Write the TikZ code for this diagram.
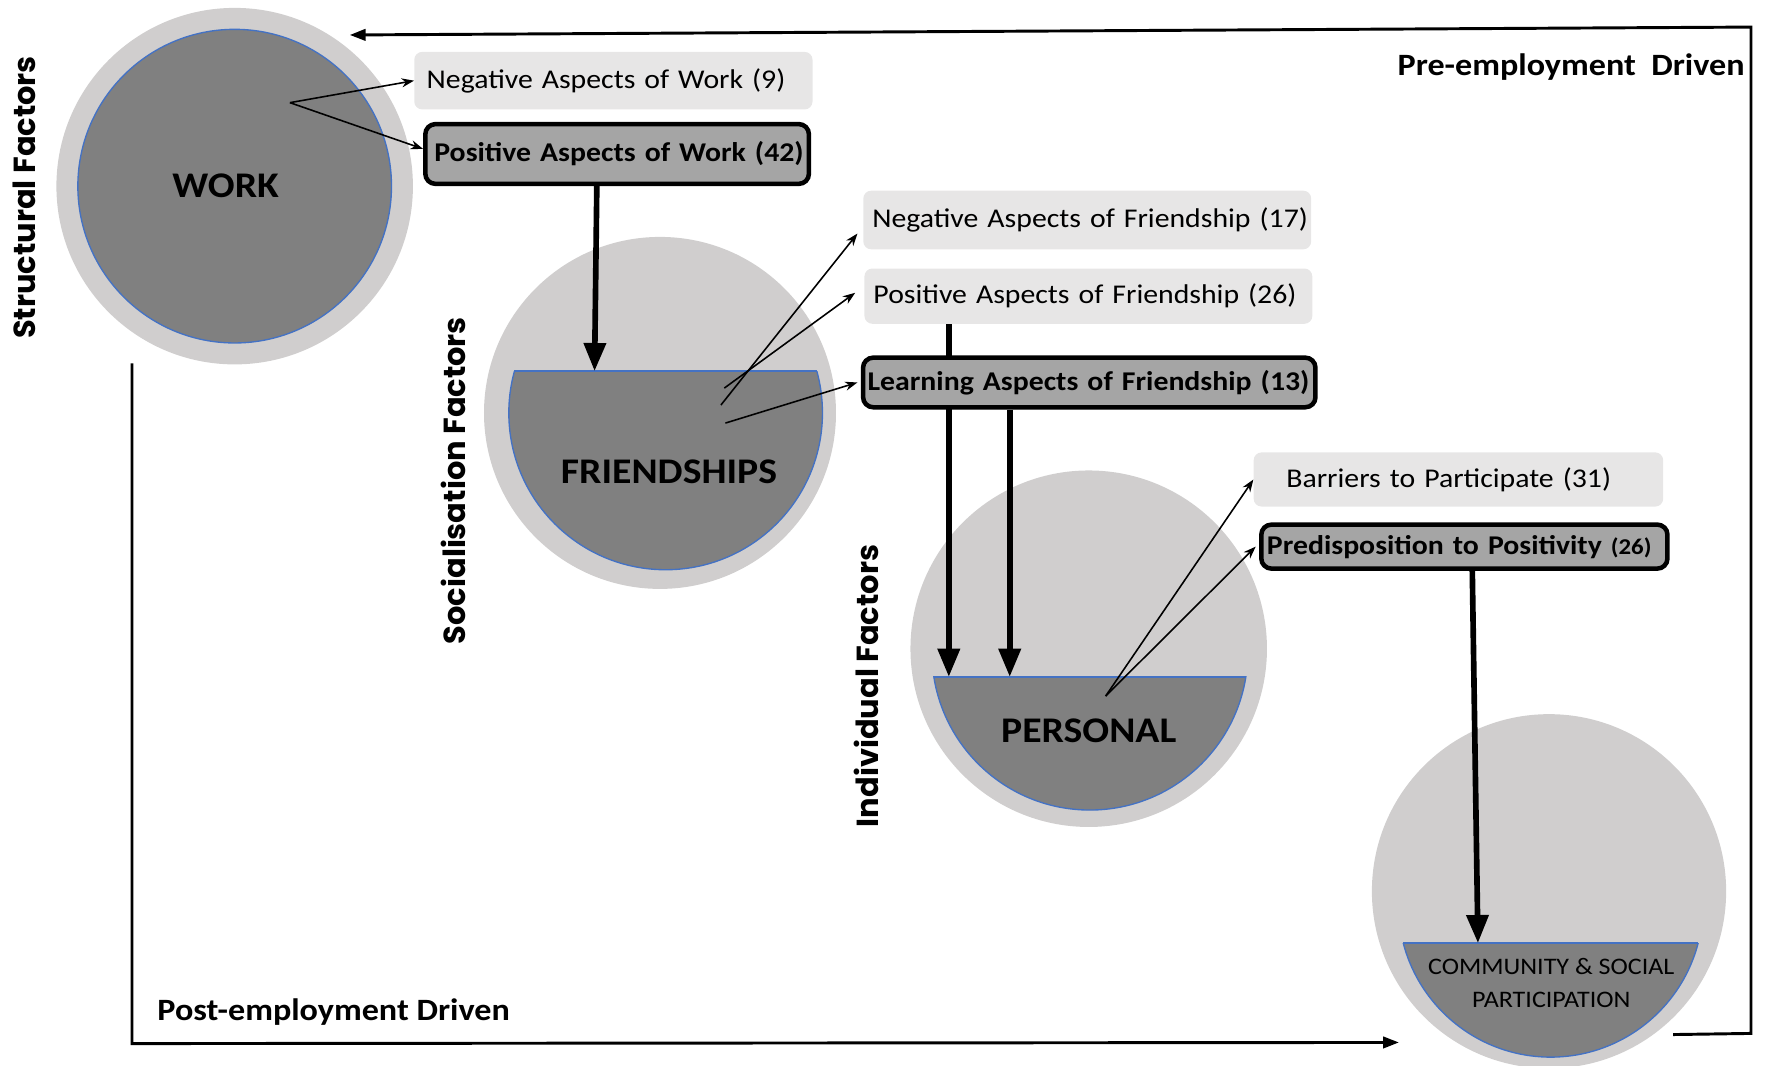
\documentclass[tikz,border=0pt]{standalone}
\usepackage{fontspec}
\setmainfont{Carlito}[FakeStretch=1.1]
\newfontfamily\geofont{Poppins}
\usetikzlibrary{arrows.meta}
\pgfdeclarelayer{circles}
\pgfdeclarelayer{links}
\pgfsetlayers{circles,links,main}
\definecolor{outergray}{HTML}{D0CECE}
\definecolor{innergray}{HTML}{808080}
\definecolor{rimblue}{HTML}{4472C4}
\definecolor{boxlight}{HTML}{E7E6E6}
\definecolor{boxdark}{HTML}{A5A5A5}
\tikzset{
 outer/.style={circle, fill=outergray, inner sep=0},
 bowl/.style={fill=innergray, draw=rimblue, line width=1.2pt},
 rim/.style={draw=rimblue, line width=1.2pt},
 lightbox/.style={fill=boxlight, rounded corners=7pt, inner ysep=0, anchor=west, align=left, font=\fontsize{24}{28}\selectfont},
 darkbox/.style={fill=boxdark, draw=black, line width=4pt, rounded corners=9pt, inner ysep=0, anchor=west, align=left, font=\fontsize{24}{28}\selectfont\bfseries},
 thinarrow/.style={line width=1.4pt, -{Stealth[length=11pt,width=8pt]}},
 thickarrow/.style={line width=5pt, -{Triangle[length=25pt,width=19pt]}},
 frameline/.style={line width=2.6pt},
 sidelabel/.style={rotate=90, font=\geofont\bfseries\fontsize{27}{30}\selectfont},
 driven/.style={font=\fontsize{27.5}{32}\selectfont\bfseries},
 bowltext/.style={font=\fontsize{32}{36}\selectfont\bfseries},
}
\begin{document}
\begin{tikzpicture}[x=1pt,y=-1pt]
\useasboundingbox (0,0) rectangle (1568,944);

% ---- circles ----
\begin{pgfonlayer}{circles}
\node[outer, minimum size=316pt] (workc) at (208,165) {};
\node[outer, minimum size=312pt] (friendc) at (585,366) {};
\node[outer, minimum size=316pt] (persc) at (965,575) {};
\node[outer, minimum size=314pt] (commc) at (1373,790) {};
\filldraw[bowl] (208,165) circle (139);
\begin{scope}
\clip (440,329) rectangle (740,515);
\filldraw[bowl] (590,366) circle (139);
\end{scope}
\draw[rim] (456,329) -- (724,329);
\begin{scope}
\clip (815,600) rectangle (1115,730);
\filldraw[bowl] (966,578) circle (140);
\end{scope}
\draw[rim] (827.7,600) -- (1104.3,600);
\begin{scope}
\clip (1230,836) rectangle (1520,944);
\filldraw[bowl] (1374.5,802) circle (135);
\end{scope}
\draw[rim] (1244,836) -- (1505,836);
\end{pgfonlayer}

\node[bowltext] (work) at (200,165) {WORK};
\node[bowltext] (friend) at (593,418) {FRIENDSHIPS};
\node[bowltext] (pers) at (965,648) {PERSONAL};
\node[align=center, font=\fontsize{21}{29}\selectfont] (comm) at (1375,871) {COMMUNITY \& SOCIAL\\PARTICIPATION};

% ---- boxes ----
\node[lightbox, minimum height=51pt, text width=331pt, inner xsep=11pt] (negW) at (367,71.5) {\mbox{Negative Aspects of Work (9)}};
\node[darkbox, minimum height=53pt, text width=324pt, inner xsep=8pt] (posW) at (375,136.5) {\mbox{Positive Aspects of Work (42)}};
\node[lightbox, minimum height=52pt, text width=381pt, inner xsep=8pt] (negF) at (765,195) {\mbox{Negative Aspects of Friendship (17)}};
\node[lightbox, minimum height=49pt, text width=381pt, inner xsep=8pt] (posF) at (766,262.5) {\mbox{Positive Aspects of Friendship (26)}};
\node[darkbox, minimum height=44pt, text width=393pt, inner xsep=4pt] (learnF) at (763,339) {\mbox{Learning Aspects of Friendship (13)}};
\node[lightbox, minimum height=48pt, text width=305pt, inner xsep=29pt] (barr) at (1111,425) {\mbox{Barriers to Participate (31)}};
\node[darkbox, minimum height=39pt, text width=350pt, inner xsep=5pt] (pred) at (1116,484.5) {\mbox{Predisposition to Positivity {\fontsize{20}{22}\selectfont(26)}}};

% ---- side labels ----
\node[sidelabel] (lstruct) at (22,175) {Structural Factors};
\node[sidelabel] (lsocial) at (402,426) {Socialisation Factors};
\node[sidelabel] (lindiv) at (768,608) {Individual Factors};
\node[driven, anchor=east] (pre) at (1550,59) {Pre-employment\ \ Driven};
\node[driven, anchor=west] (post) at (136,897) {Post-employment Driven};

% ---- coordinates ----
\coordinate (w0) at (257,91);
\coordinate (f1) at (639,359);
\coordinate (f2) at (642,344);
\coordinate (f3) at (643,375);
\coordinate (p0) at (980,617);
\coordinate (friendTop) at (527,329);
\coordinate (persTopA) at (841,600);
\coordinate (persTopB) at (895,600);
\coordinate (commTop) at (1310,836);
\coordinate (topEnd) at (310,31);
\coordinate (topCorner) at (1552,24);
\coordinate (rightBot) at (1552,916);
\coordinate (rightStub) at (1483,917);
\coordinate (leftTop) at (117,322);
\coordinate (leftBot) at (117,925);
\coordinate (botEnd) at (1240,924);

% ---- connectors ----
\begin{pgfonlayer}{links}
\draw[thinarrow] (w0) -- (negW.west);
\draw[thinarrow] (w0) -- ([yshift=4.5pt]posW.west);
\draw[thinarrow] (f1) -- ([shift={(-5pt,-12pt)}]negF.west);
\draw[thinarrow] (f2) -- ([shift={(-8pt,3pt)}]posF.west);
\draw[thinarrow] (f3) -- ([xshift=-3pt]learnF.west);
\draw[thinarrow] (p0) -- (barr.west);
\draw[thinarrow] (p0) -- ([xshift=-3pt]pred.west);
\draw[thickarrow] ([xshift=-18pt]posW.south) -- (friendTop);
\draw[thickarrow] (posF.south -| persTopA) -- (persTopA);
\draw[thickarrow] (learnF.south -| persTopB) -- (persTopB);
\draw[thickarrow] ([xshift=7pt]pred.south) -- (commTop);
\draw[frameline, -{Triangle[length=14pt,width=10pt]}] (rightStub) -- (rightBot) -- (topCorner) -- (topEnd);
\draw[frameline, -{Triangle[length=14pt,width=10pt]}] (leftTop) -- (leftBot) -- (botEnd);
\end{pgfonlayer}
\end{tikzpicture}
\end{document}
